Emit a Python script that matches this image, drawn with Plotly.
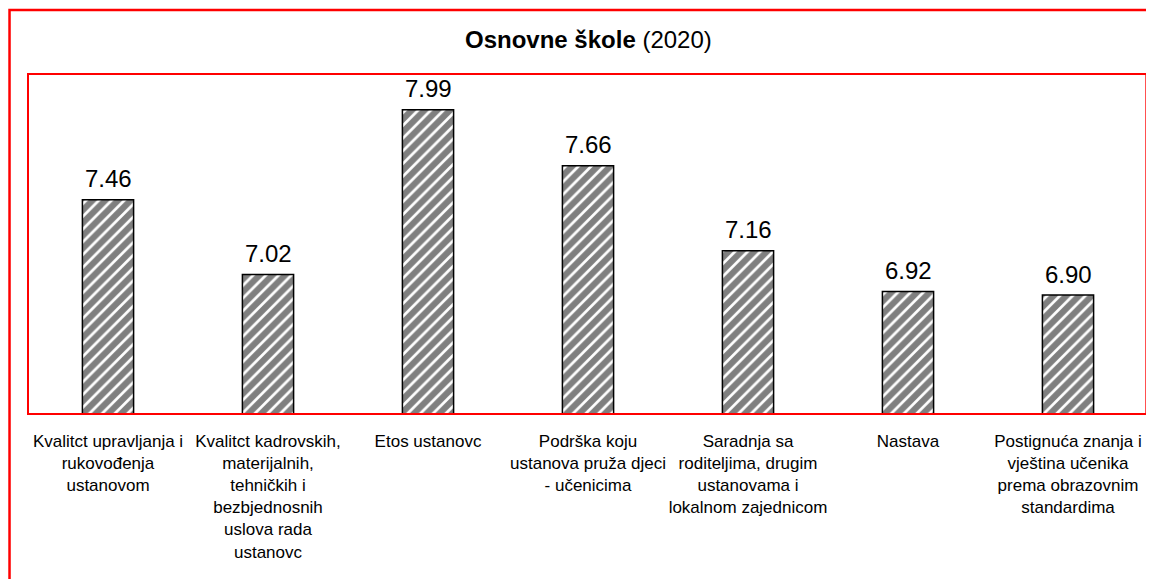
import plotly.graph_objects as go

categories = [
    "Kvalitct upravljanja i<br>rukovođenja<br>ustanovom",
    "Kvalitct kadrovskih,<br>materijalnih,<br>tehničkih i<br>bezbjednosnih<br>uslova rada<br>ustanovc",
    "Etos ustanovc",
    "Podrška koju<br>ustanova pruža djeci<br>- učenicima",
    "Saradnja sa<br>roditeljima, drugim<br>ustanovama i<br>lokalnom zajednicom",
    "Nastava",
    "Postignuća znanja i<br>vještina učenika<br>prema obrazovnim<br>standardima",
]
values = [7.46, 7.02, 7.99, 7.66, 7.16, 6.92, 6.90]

FONT = "Liberation Sans, Arial, sans-serif"

xs = list(range(len(categories)))

fig = go.Figure()
fig.add_trace(go.Bar(
    x=xs,
    y=values,
    width=0.32,
    marker=dict(
        color="white",
        line=dict(color="black", width=1.5),
        pattern=dict(shape="/", fgcolor="black", bgcolor="white", size=9, solidity=0.7),
    ),
    cliponaxis=False,
))

value_labels = [
    dict(x=x, y=v, xref="x", yref="y", text=f"{v:.2f}", showarrow=False,
         xanchor="center", yanchor="middle", yshift=21,
         font=dict(size=24, color="black", family=FONT))
    for x, v in zip(xs, values)
]

# body has an 8px default margin, so the figure is drawn 8px in from the window edge
fig.update_layout(
    width=1146, height=571,
    margin=dict(l=20, r=6, t=66, b=165),
    paper_bgcolor="white", plot_bgcolor="white",
    showlegend=False,
    font=dict(family=FONT, color="black"),
    xaxis=dict(
        tickmode="array",
        tickvals=xs,
        ticktext=categories,
        tickfont=dict(size=17, color="black", family=FONT),
        range=[-0.5, len(categories) - 0.5],
        showgrid=False, zeroline=False, showline=False, ticks="",
        automargin=False,
        ticklabelstandoff=15,
    ),
    yaxis=dict(
        range=[6.2, 8.2],
        visible=False,
        showgrid=False, zeroline=False,
        automargin=False,
    ),
    shapes=[
        dict(type="rect", xref="paper", yref="paper", x0=0, x1=0.9985, y0=0, y1=1,
             line=dict(color="red", width=2), fillcolor="rgba(0,0,0,0)", layer="above"),
        dict(type="rect", xref="paper", yref="paper", x0=-0.0165, x1=1.2, y0=-0.7, y1=1.188,
             line=dict(color="red", width=2.5), fillcolor="rgba(0,0,0,0)"),
    ],
    annotations=[
        dict(text="<b>Osnovne škole</b> (2020)", xref="paper", yref="paper",
             x=0.5, y=(414 - 40) / 340, xanchor="center", yanchor="middle",
             showarrow=False, font=dict(size=24, color="black", family=FONT)),
    ] + value_labels,
)

fig.write_html("out.html")
